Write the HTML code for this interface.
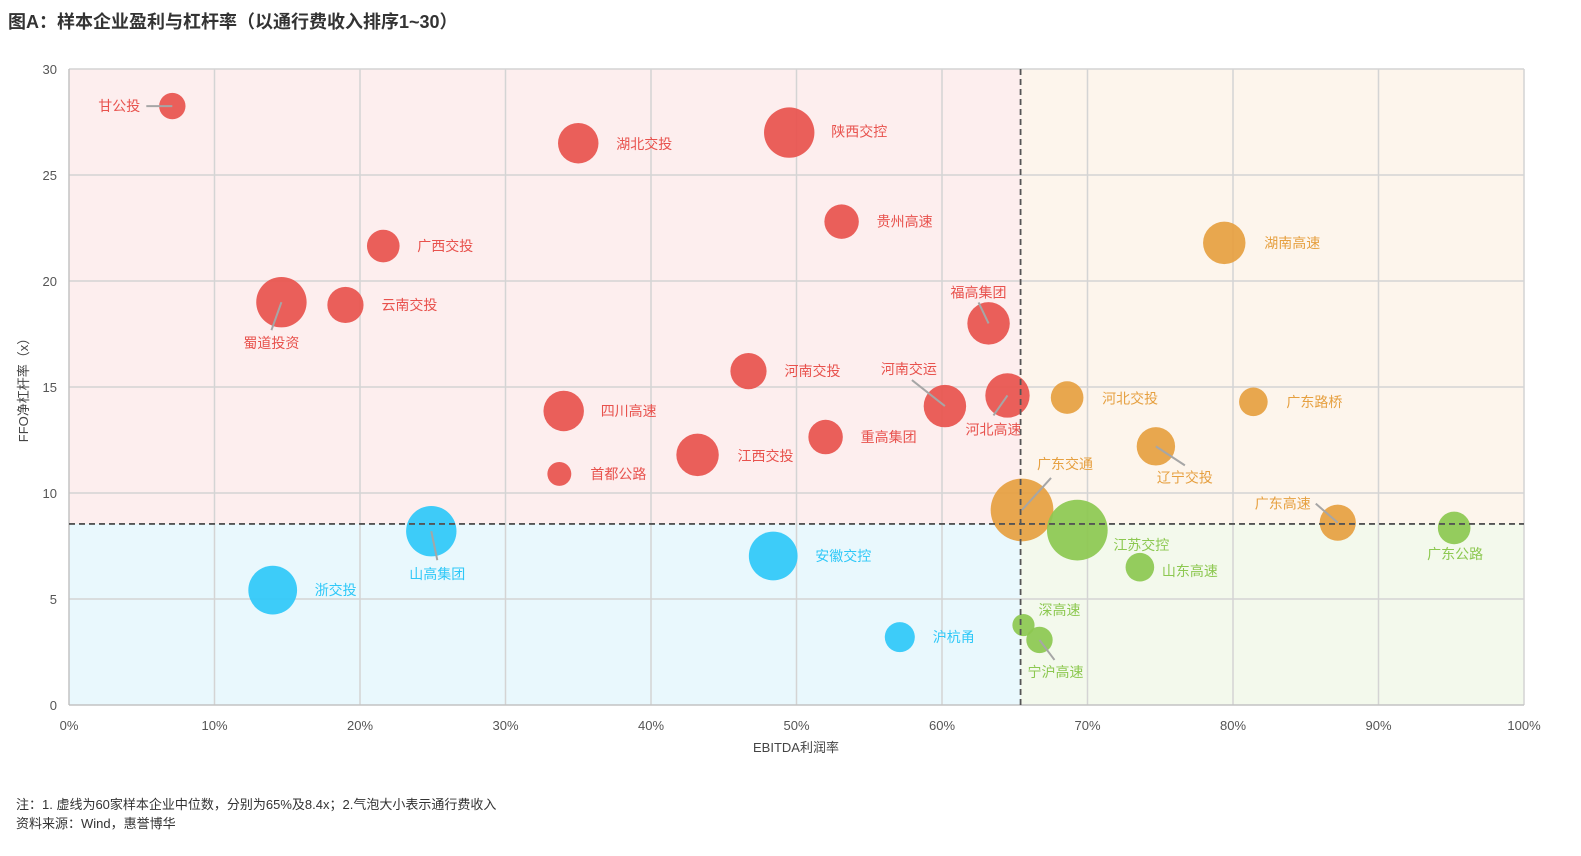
<!DOCTYPE html>
<html><head><meta charset="utf-8"><style>
body{margin:0;background:#fff;font-family:"Liberation Sans","Noto Sans CJK SC",sans-serif;}
svg text{font-family:"Liberation Sans","Noto Sans CJK SC",sans-serif;}
</style></head><body>
<svg id="c" width="1581" height="851">
<text x="8" y="28" font-size="18" font-weight="bold" fill="#333">图A：样本企业盈利与杠杆率（以通行费收入排序1~30）</text>
<text x="16" y="809" font-size="13" fill="#333">注：1. 虚线为60家样本企业中位数，分别为65%及8.4x；2.气泡大小表示通行费收入</text>
<text x="16" y="828" font-size="13" fill="#333">资料来源：Wind，惠誉博华</text>
<text x="796" y="752" font-size="13" fill="#444" text-anchor="middle">EBITDA利润率</text>
<text transform="translate(28,387) rotate(-90)" font-size="13" fill="#444" text-anchor="middle">FFO净杠杆率（x）</text>
</svg>
<script>
const names=["甘公投","湖北交投","陕西交控","贵州高速","广西交投","蜀道投资","云南交投","福高集团","河南交投","河南交运","河北高速","四川高速","重高集团","江西交投","首都公路","湖南高速","河北交投","广东路桥","辽宁交投","广东交通","广东高速","江苏交控","广东公路","山东高速","深高速","宁沪高速","浙交投","山高集团","安徽交控","沪杭甬"];
const margin=[7.1,35.0,49.5,53.1,21.6,14.6,19.0,63.2,46.7,60.2,64.5,34.0,52.0,43.2,33.7,79.4,68.6,81.4,74.7,65.5,87.2,69.3,95.2,73.6,65.6,66.7,14.0,24.9,48.4,57.1];
const leverage=[28.25,26.5,27.0,22.8,21.65,19.0,18.87,18.0,15.75,14.1,14.6,13.87,12.64,11.8,10.9,21.8,14.5,14.3,12.2,9.2,8.6,8.25,8.35,6.5,3.77,3.07,5.42,8.2,7.03,3.2];
const revenue=[17,40,62,29,26,62,32,44,32,44,48,40,29,44,14,44,26,20,36,96,32,90,26,20,12,17,58,62,58,22];
const xTicks=[0,10,20,30,40,50,60,70,80,90,100];
const yTicks=[0,5,10,15,20,25,30];
const medX=65.4, medY=8.54;
// label layout: [dx,dy,anchor, leader?]
const lab=[[-32,0,"end",[-26,0]],[38,1,"start"],[42,-1,"start"],[35,0,"start"],[34,0,"start"],[-10,41,"middle",[-10,28]],[36,0,"start"],[-10,-31,"middle",[-10,-21]],[36,0,"start"],[-36,-37,"middle",[-33,-26]],[-14,34,"middle",[-14,20]],[37,0,"start"],[35,0,"start"],[40,1,"start"],[31,0,"start"],[40,0,"start"],[35,1,"start"],[33,0,"start"],[29,31,"middle",[29,19]],[43,-46,"middle",[29,-32]],[-55,-19,"middle",[-22,-19]],[36,15,"start"],[1,26,"middle"],[22,4,"start"],[15,-15,"start"],[16,32,"middle",[15,20]],[42,0,"start"],[6,43,"middle",[6,29]],[42,0,"start"],[33,0,"start"]];
const X=v=>69+v*14.55, Y=v=>705-v*21.2;
const svg=document.getElementById('c'),NS="http://www.w3.org/2000/svg";
function mk(t,a,p){const e=document.createElementNS(NS,t);for(const k in a)e.setAttribute(k,a[k]);(p||svg).appendChild(e);return e;}
const g=mk('g',{});


const x0=X(0),x1=X(100),y0=Y(0),y1=Y(30),mx=X(medX),my=Y(medY);
[[x0,y1,mx-x0,my-y1,"#fdeeee"],[mx,y1,x1-mx,my-y1,"#fdf5ec"],[x0,my,mx-x0,y0-my,"#e9f8fd"],[mx,my,x1-mx,y0-my,"#f3f9ec"]].forEach((r,i)=>{const e=mk('rect',{x:r[0],y:r[1],width:r[2],height:r[3],fill:r[4]},g);

});
xTicks.forEach(t=>{const l=mk('line',{x1:X(t),x2:X(t),y1:y1,y2:y0,stroke:"#d4d4d4","stroke-width":1.5},g);


const tx=mk('text',{x:X(t),y:y0+25,"font-size":13,fill:"#555","text-anchor":"middle"},g);tx.textContent=t+"%";

});
yTicks.forEach(t=>{const l=mk('line',{x1:x0,x2:x1,y1:Y(t),y2:Y(t),stroke:"#d4d4d4","stroke-width":1.5},g);


const tx=mk('text',{x:x0-12,y:Y(t)+5,"font-size":13,fill:"#555","text-anchor":"end"},g);tx.textContent=t;

});
mk('line',{x1:x0,x2:x0,y1:y1,y2:y0,stroke:"#bbb"},g);mk('line',{x1:x0,x2:x1,y1:y0,y2:y0,stroke:"#bbb"},g);
function col(i){const x=margin[i],y=leverage[i];if(x>=medX)return y>=medY?"#e6a040":"#8cc850";return y>=medY?"#e8524d":"#2ec8f8";}
names.forEach((n,i)=>{const cx=X(margin[i]),cy=Y(leverage[i]),r=3.2*Math.sqrt(revenue[i]);const c=col(i);
const b=mk('circle',{cx:cx,cy:cy,r:r,fill:c,"fill-opacity":0.92},g);


const L=lab[i];
if(L[3]){const ln=mk('line',{x1:cx,y1:cy,x2:cx+L[3][0],y2:cy+L[3][1],stroke:"#a6a6a6","stroke-width":2},g);

}
const t=mk('text',{x:cx+L[0],y:cy+L[1]+5,"font-size":14,fill:c,"text-anchor":L[2]},g);t.textContent=n;

});
const v=mk('line',{x1:mx,x2:mx,y1:y1,y2:y0,stroke:"#555","stroke-width":1.8,"stroke-dasharray":"6,4"},g);


const h=mk('line',{x1:x0,x2:x1,y1:my,y2:my,stroke:"#555","stroke-width":1.8,"stroke-dasharray":"6,4"},g);


</script>
</body></html>
